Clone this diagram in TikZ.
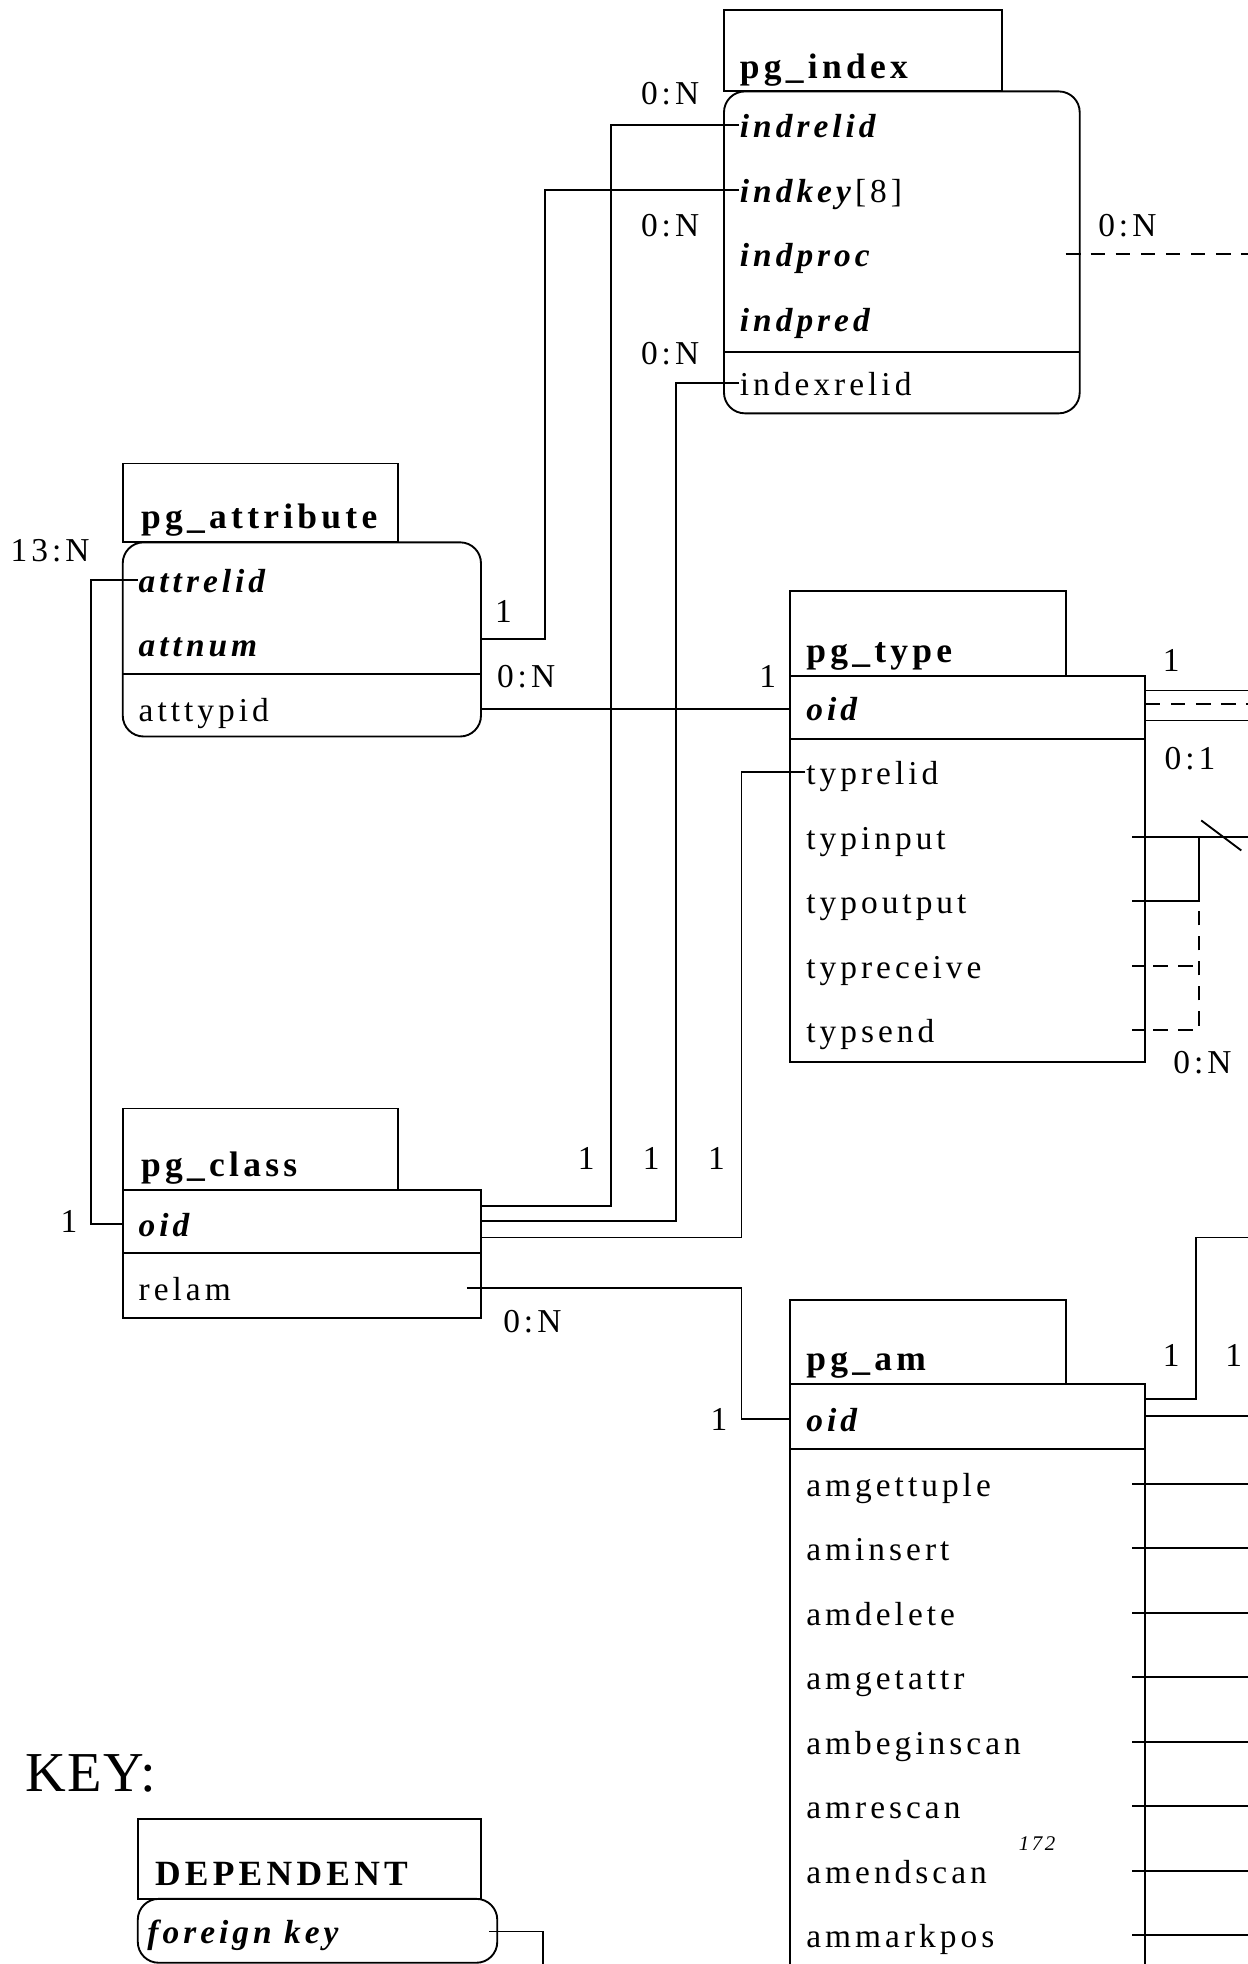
\documentclass[tikz,border=0pt]{standalone}
\usepackage{fontspec}
\setmainfont[LetterSpace=12]{Liberation Serif}
\usetikzlibrary{positioning, fit}

\begin{document}
\begin{tikzpicture}[
    x=0.6pt, y=-0.6pt,
    line width=0.9pt,
    node distance=14pt,
    hdr/.style={draw, inner sep=0pt},
    body/.style={draw, inner sep=0pt},
    rbody/.style={body, rounded corners=10pt},
    tabname/.style={anchor=base west, inner sep=0pt, font=\fontsize{17}{20}\selectfont\bfseries},
    fld/.style={anchor=west, inner sep=0pt, text height=14pt, text depth=2pt, font=\fontsize{16}{18}\selectfont},
    pk/.style={fld, font=\fontsize{16}{18}\selectfont\bfseries\itshape},
    nextfld/.style={fld, below=of #1.south west, anchor=north west},
    nextpk/.style={pk, below=of #1.south west, anchor=north west},
    card/.style={inner sep=0pt, font=\fontsize{16}{18}\selectfont},
    opt/.style={dash pattern=on 7pt off 5pt}
  ]
  \path[use as bounding box, fill=white] (0,0) rectangle (996,1568);

  % pg_index
  \node[rbody, fit={(578,73) (862,330)}] (index) {};
  \node[hdr, fit={(578,8) (800,73)}] (index-h) {};
  \node[tabname] (index-n) at (590,63) {pg\_index};
  \node[pk] (indrelid) at (590,100) {indrelid};
  \node[nextpk=indrelid] (indkey) {indkey\textnormal{[8]}};
  \node[nextpk=indkey] (indproc) {indproc};
  \node[nextpk=indproc] (indpred) {indpred};
  \node[nextfld=indpred] (indexrelid) {indexrelid};
  \draw (578,281) -- (862,281);

  % pg_attribute
  \node[rbody, fit={(98,433) (384,588)}] (attribute) {};
  \node[hdr, fit={(98,370) (318,433)}] (attribute-h) {};
  \node[tabname] (attribute-n) at (112,422) {pg\_attribute};
  \node[pk] (attrelid) at (110,463) {attrelid};
  \node[nextpk=attrelid] (attnum) {attnum};
  \node[nextfld=attnum] (atttypid) {atttypid};
  \draw (98,538) -- (384,538);

  % pg_type
  \node[body, fit={(631,540) (914,848)}] (type) {};
  \node[hdr, fit={(631,472) (851,540)}] (type-h) {};
  \node[tabname] (type-n) at (643,529) {pg\_type};
  \node[pk] (typoid) at (643,565) {oid};
  \node[nextfld=typoid] (typrelid) {typrelid};
  \node[nextfld=typrelid] (typinput) {typinput};
  \node[nextfld=typinput] (typoutput) {typoutput};
  \node[nextfld=typoutput] (typreceive) {typreceive};
  \node[nextfld=typreceive] (typsend) {typsend};
  \draw (631,590) -- (914,590);

  % pg_class
  \node[body, fit={(98,950) (384,1052)}] (class) {};
  \node[hdr, fit={(98,885) (318,950)}] (class-h) {};
  \node[tabname] (class-n) at (112,939) {pg\_class};
  \node[pk] (classoid) at (110,977) {oid};
  \node[nextfld=classoid] (relam) {relam};
  \draw (98,1000) -- (384,1000);

  % pg_am
  \node[body, fit={(631,1105) (914,1620)}] (am) {};
  \node[hdr, fit={(631,1038) (851,1105)}] (am-h) {};
  \node[tabname] (am-n) at (643,1094) {pg\_am};
  \node[pk] (amoid) at (643,1133) {oid};
  \node[nextfld=amoid] (amgettuple) {amgettuple};
  \node[nextfld=amgettuple] (aminsert) {aminsert};
  \node[nextfld=aminsert] (amdelete) {amdelete};
  \node[nextfld=amdelete] (amgetattr) {amgetattr};
  \node[nextfld=amgetattr] (ambeginscan) {ambeginscan};
  \node[nextfld=ambeginscan] (amrescan) {amrescan};
  \node[nextfld=amrescan] (amendscan) {amendscan};
  \node[nextfld=amendscan] (ammarkpos) {ammarkpos};
  \draw (631,1157) -- (914,1157);

  % key
  \node[anchor=base west, inner sep=0pt, font=\fontsize{27}{32}\selectfont\addfontfeature{LetterSpace=2}] (keytitle) at (20,1430) {KEY:};
  \node[rbody, fit={(110,1516) (397,1567)}] (dep) {};
  \node[hdr, fit={(110,1452) (384,1516)}] (dep-h) {};
  \node[tabname] (dep-n) at (123,1505) {DEPENDENT};
  \node[pk] (fkey) at (117,1542) {foreign key};
  \node[inner sep=0pt, font=\fontsize{10}{12}\selectfont\itshape] (pageno) at (828,1472) {172};

  % routing points
  \coordinate (laneA) at (73,0);
  \coordinate (laneK) at (435,510);
  \coordinate (laneI) at (488,963);
  \coordinate (laneX) at (540,975);
  \coordinate (laneT) at (592,988);
  \coordinate (laneM) at (592,1133);
  \coordinate (laneP) at (957,0);
  \coordinate (laneO) at (955,988);

  % connectors
  \draw (attrelid.west) -| (laneA |- classoid) -- (classoid -| class.west);
  \draw (indkey.west) -| (laneK) -- (laneK -| attribute.east);
  \draw (indrelid.west) -| (laneI) -- (laneI -| class.east);
  \draw (indexrelid.west) -| (laneX) -- (laneX -| class.east);
  \draw (typrelid.west) -| (laneT) -- (laneT -| class.east);
  \draw (atttypid -| attribute.east) -- (atttypid -| type.west);
  \draw (relam -| class.east) ++(-12,0) -| (laneM) -- (laneM -| am.west);

  \draw (indproc -| index.east) ++(-12,0) -- ++(12,0);
  \draw[opt] (indproc -| index.east) ++(8,0) -- ++(140,0);

  \draw (type.north east) ++(0,12) -- ++(90,0);
  \draw[opt] (type.north east) ++(0,23) -- ++(90,0);
  \draw (type.north east) ++(0,36) -- ++(90,0);
  \draw (typinput -| type.east) ++(-11,0) -- ++(100,0);
  \draw (typoutput -| type.east) ++(-11,0) -| (laneP |- typinput);
  \draw (typreceive -| type.east) ++(-11,0) -- ++(11,0);
  \draw[opt] (typreceive -| type.east) ++(6,0) -- (typreceive -| laneP);
  \draw (typsend -| type.east) ++(-11,0) -- ++(11,0);
  \draw[opt] (typsend -| type.east) ++(6,0) -| (laneP |- typoutput);
  \draw (laneP |- typinput) ++(2,-13) -- ++(32,24);

  \draw (am.north east) ++(0,13) -| (laneO) -- ++(50,0);
  \draw (am.north east) ++(0,26) -- ++(90,0);
  \draw (amgettuple -| am.east) ++(-11,0) -- ++(100,0);
  \draw (aminsert -| am.east) ++(-11,0) -- ++(100,0);
  \draw (amdelete -| am.east) ++(-11,0) -- ++(100,0);
  \draw (amgetattr -| am.east) ++(-11,0) -- ++(100,0);
  \draw (ambeginscan -| am.east) ++(-11,0) -- ++(100,0);
  \draw (amrescan -| am.east) ++(-11,0) -- ++(100,0);
  \draw (amendscan -| am.east) ++(-11,0) -- ++(100,0);
  \draw (ammarkpos -| am.east) ++(-11,0) -- ++(100,0);

  \draw (fkey -| dep.east) ++(-7,0) -| ++(43,40);

  % cardinalities
  \node[card] (card-indrelid) at (535,75) {0:N};
  \node[card] (card-indkey) at (535,180) {0:N};
  \node[card] (card-indexrelid) at (535,282) {0:N};
  \node[card] (card-indproc) at (900,180) {0:N};
  \node[card] (card-attrelid) at (40,440) {13:N};
  \node[card] (card-attkey) at (402,488) {1};
  \node[card] (card-atttypid) at (420,540) {0:N};
  \node[card] (card-typoid) at (613,540) {1};
  \node[card] (card-typoid-r) at (935,527) {1};
  \node[card] (card-typoid-opt) at (950,606) {0:1};
  \node[card] (card-typproc) at (960,848) {0:N};
  \node[card] (card-class1) at (468,925) {1};
  \node[card] (card-class2) at (520,925) {1};
  \node[card] (card-class3) at (572,925) {1};
  \node[card] (card-classoid) at (55,975) {1};
  \node[card] (card-relam) at (425,1055) {0:N};
  \node[card] (card-amoid) at (574,1133) {1};
  \node[card] (card-amoid-r1) at (935,1082) {1};
  \node[card] (card-amoid-r2) at (985,1082) {1};
\end{tikzpicture}
\end{document}
